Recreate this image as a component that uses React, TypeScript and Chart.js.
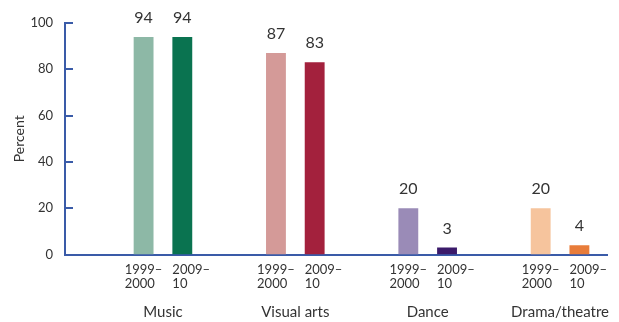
import React, { useEffect, useRef } from "react";
import { Chart, registerables } from "chart.js";

Chart.register(...registerables);

const categories = ["Music", "Visual arts", "Dance", "Drama/theatre"];
const seriesLabels = ["1999–2000", "2009–10"];
const values1999 = [94, 87, 20, 20];
const values2009 = [94, 83, 3, 4];
const yearTickLabels = [["1999–", "2000"], ["2009–", "10"]];
const yTicks = [0, 20, 40, 60, 80, 100];
const colors1999 = ["#8db8a6", "#d49a98", "#9a8bb7", "#f6c49d"];
const colors2009 = ["#0a7350", "#a3213d", "#3b1a6a", "#e87c3a"];

const AXIS = "#3a5ba8";
const TEXT = "#333333";
const FONT = "Lato";

const valueLabels = {
  id: "valueLabels",
  afterDatasetsDraw(chart: any) {
    const ctx = chart.ctx;
    ctx.save();
    ctx.font = `16px ${FONT}`;
    ctx.fillStyle = TEXT;
    ctx.textAlign = "center";
    ctx.textBaseline = "alphabetic";
    chart.data.datasets.forEach((ds: any, di: number) => {
      const meta = chart.getDatasetMeta(di);
      meta.data.forEach((bar: any, i: number) => {
        ctx.fillText(String(ds.data[i].y), bar.x, bar.y - 14);
      });
    });
    ctx.restore();
  },
};

const innerTicks = {
  id: "innerTicks",
  afterDraw(chart: any) {
    const ctx = chart.ctx;
    const yScale = chart.scales.y;
    const left = chart.chartArea.left;
    ctx.save();
    ctx.strokeStyle = AXIS;
    ctx.lineWidth = 2;
    yScale.ticks.forEach((t: any) => {
      const y = Math.round(yScale.getPixelForValue(t.value));
      ctx.beginPath();
      ctx.moveTo(left - 1, y);
      ctx.lineTo(left + 8, y);
      ctx.stroke();
    });
    ctx.restore();
  },
};

export default function App() {
  const ref = useRef<HTMLCanvasElement | null>(null);
  useEffect(() => {
    if (!ref.current) return;
    const xMin = -0.74;
    const xMax = 3.36;
    const chart = new Chart(ref.current, {
      type: "bar",
      data: {
        datasets: [
          {
            label: seriesLabels[0],
            data: categories.map((_, i) => ({ x: i, y: values1999[i] })),
            backgroundColor: colors1999,
            xAxisID: "x",
          },
          {
            label: seriesLabels[1],
            data: categories.map((_, i) => ({ x: i, y: values2009[i] })),
            backgroundColor: colors2009,
            xAxisID: "x",
          },
        ],
      },
      options: {
        animation: false,
        responsive: true,
        maintainAspectRatio: false,
        devicePixelRatio: 1,
        categoryPercentage: 0.585,
        barPercentage: 0.513,
        layout: { padding: { top: 23, right: 7, bottom: 0, left: 0 } },
        plugins: { legend: { display: false }, tooltip: { enabled: false } },
        scales: {
          xYear: {
            type: "linear",
            position: "bottom",
            weight: 0,
            offset: false,
            min: xMin,
            max: xMax,
            afterBuildTicks: (scale: any) => {
              const t: any[] = [];
              categories.forEach((_, i) => {
                t.push({ value: i - 0.289 });
                t.push({ value: i + 0.071 });
              });
              scale.ticks = t;
            },
            afterFit: (scale: any) => {
              scale.height = 40;
            },
            grid: { display: false, drawTicks: false },
            border: { display: true, color: AXIS, width: 2 },
            ticks: {
              autoSkip: false,
              maxRotation: 0,
              minRotation: 0,
              align: "start",
              padding: 8,
              color: TEXT,
              font: { family: FONT, size: 13, lineHeight: 1.1 },
              callback: (_v: any, index: number) => yearTickLabels[index % 2],
            },
          },
          x: {
            type: "linear",
            position: "bottom",
            weight: 1,
            offset: false,
            min: xMin,
            max: xMax,
            afterBuildTicks: (scale: any) => {
              scale.ticks = categories.map((_, i) => ({ value: i }));
            },
            afterFit: (scale: any) => {
              scale.height = 27.5;
            },
            grid: { display: false, drawTicks: false, offset: false },
            border: { display: false },
            ticks: {
              autoSkip: false,
              maxRotation: 0,
              minRotation: 0,
              padding: 9,
              color: TEXT,
              font: { family: FONT, size: 15 },
              callback: (_v: any, index: number) => categories[index],
            },
          },
          y: {
            min: 0,
            max: 100,
            afterBuildTicks: (scale: any) => {
              scale.ticks = yTicks.map((v) => ({ value: v }));
            },
            afterFit: (scale: any) => {
              scale.width = 65;
            },
            grid: { display: false, drawTicks: false },
            border: { display: true, color: AXIS, width: 2 },
            ticks: {
              padding: 12,
              color: TEXT,
              font: { family: FONT, size: 13 },
            },
            title: {
              display: true,
              text: "Percent",
              color: TEXT,
              font: { family: FONT, size: 14 },
              padding: { top: 10.6, bottom: 0 },
            },
          },
        },
      } as any,
      plugins: [valueLabels, innerTicks],
    });
    return () => chart.destroy();
  }, []);
  return (
    <div style={{ position: "fixed", left: 0, top: 0, width: 619, height: 322, background: "#fff" }}>
      <canvas ref={ref} />
    </div>
  );
}
